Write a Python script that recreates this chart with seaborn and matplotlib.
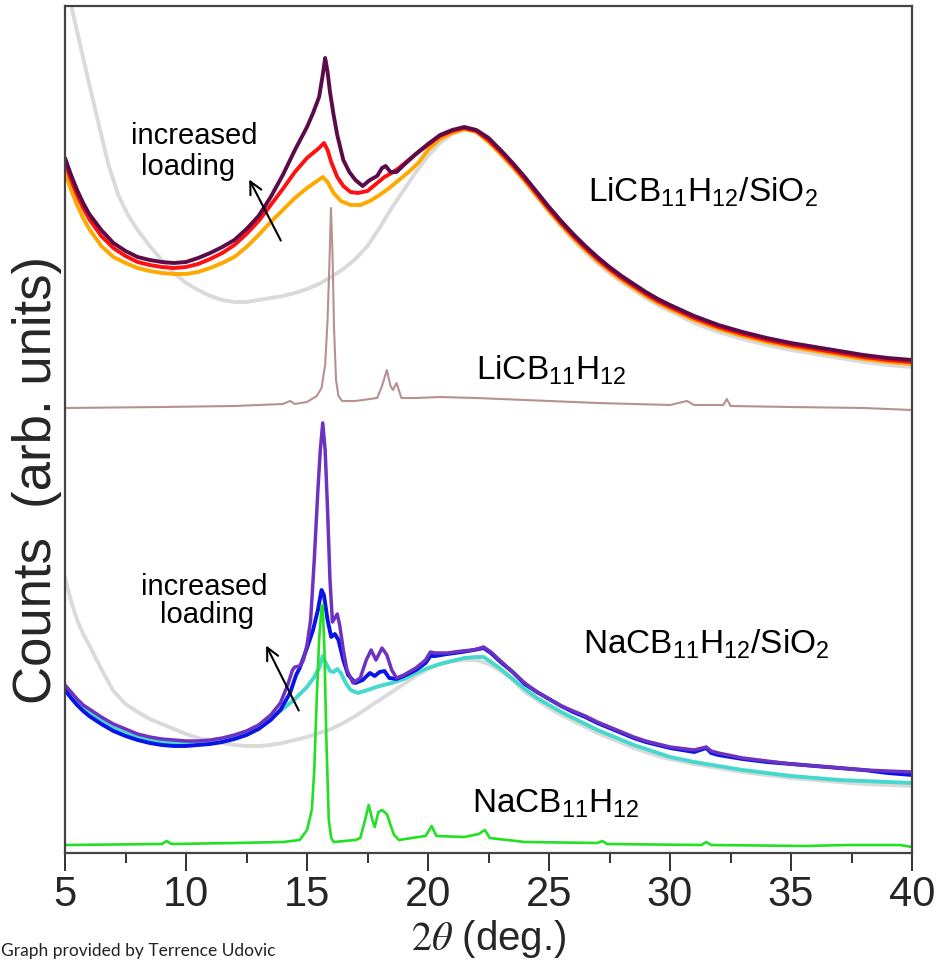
import matplotlib
matplotlib.use("Agg")
import matplotlib.pyplot as plt
import seaborn as sns

# ---------------- data: (2theta [deg], counts [arb. units]) ----------------
li_sio2 = [(5.0, 877), (5.2, 852), (5.6, 810), (6.0, 768), (6.4, 727), (6.8, 687), (7.2, 657),
           (7.6, 637), (8.0, 622), (8.5, 606), (9.0, 592), (9.5, 579), (10.0, 569), (10.5, 562),
           (11.0, 556), (11.5, 552), (12.0, 550), (12.5, 550), (13.0, 552), (13.5, 554),
           (14.0, 556), (14.5, 559), (15.0, 563), (15.5, 568), (16.0, 575), (16.5, 583),
           (17.0, 593), (17.5, 606), (18.0, 624), (18.5, 644), (19.0, 662), (19.5, 680),
           (20.0, 696), (20.5, 709), (21.0, 718), (21.5, 722), (22.0, 721), (22.5, 715),
           (23.0, 697), (23.5, 684), (24.0, 670), (24.5, 655), (25.0, 640), (25.5, 626),
           (26.0, 612), (26.5, 600), (27.0, 589), (27.5, 579), (28.0, 570), (28.5, 562),
           (29.0, 554), (29.5, 547), (30.0, 541), (31.0, 529), (32.0, 520), (33.0, 513),
           (34.0, 507), (35.0, 502), (36.0, 498), (37.0, 494), (38.0, 490), (39.0, 487), (40.0, 485)]

li_high = [(5.0, 694), (5.25, 677), (5.5, 662), (5.75, 649), (6.0, 638), (6.5, 622), (7.0, 609),
           (7.5, 601), (8.0, 595), (8.5, 592), (9.0, 590), (9.5, 589), (10.0, 590), (10.5, 594),
           (11.0, 599), (11.5, 605), (12.0, 612), (12.5, 623), (13.0, 636), (13.5, 655),
           (14.0, 677), (14.5, 702), (15.0, 725), (15.25, 739), (15.5, 755), (15.65, 777),
           (15.75, 794), (15.85, 780), (15.95, 760), (16.1, 737), (16.25, 717), (16.5, 692),
           (16.75, 680), (17.0, 672), (17.3, 666), (17.6, 672), (17.9, 676), (18.1, 684),
           (18.25, 686), (18.45, 680), (18.7, 680), (19.0, 687), (19.5, 698), (20.0, 708),
           (20.5, 717), (21.0, 722), (21.5, 725), (22.0, 722), (22.5, 714), (23.0, 702),
           (23.5, 689), (24.0, 675), (24.5, 660), (25.0, 645), (25.5, 631), (26.0, 618),
           (26.5, 606), (27.0, 595), (27.5, 585), (28.0, 576), (28.5, 568), (29.0, 560),
           (29.5, 553), (30.0, 547), (31.0, 536), (32.0, 527), (33.0, 520), (34.0, 514),
           (35.0, 509), (36.0, 505), (37.0, 501), (38.0, 497), (39.0, 494), (40.0, 492)]

li_mid = [(5.0, 690), (5.25, 672), (5.5, 657), (5.75, 644), (6.0, 633), (6.5, 616), (7.0, 604),
          (7.5, 596), (8.0, 590), (8.5, 587), (9.0, 585), (9.5, 584), (10.0, 585), (10.5, 588),
          (11.0, 593), (11.5, 599), (12.0, 607), (12.5, 618), (13.0, 631), (13.5, 647),
          (14.0, 663), (14.5, 680), (15.0, 694), (15.25, 699), (15.5, 704), (15.7, 709),
          (15.85, 702), (16.0, 690), (16.25, 675), (16.5, 666), (16.8, 660), (17.1, 659),
          (17.5, 661), (17.9, 669), (18.2, 675), (18.5, 679), (18.8, 684), (19.2, 692),
          (19.6, 700), (20.0, 707), (20.5, 716), (21.0, 721), (21.5, 724), (22.0, 721),
          (22.5, 712), (23.0, 700), (23.5, 687), (24.0, 673), (24.5, 658), (25.0, 643),
          (25.5, 629), (26.0, 616), (26.5, 604), (27.0, 593), (27.5, 583), (28.0, 574),
          (28.5, 566), (29.0, 558), (29.5, 551), (30.0, 545), (31.0, 534), (32.0, 525),
          (33.0, 518), (34.0, 512), (35.0, 507), (36.0, 503), (37.0, 499), (38.0, 495),
          (39.0, 492), (40.0, 490)]

li_low = [(5.0, 680), (5.25, 662), (5.5, 647), (5.75, 634), (6.0, 623), (6.5, 606), (7.0, 595),
          (7.5, 589), (8.0, 584), (8.5, 581), (9.0, 579), (9.5, 578), (10.0, 578), (10.5, 580),
          (11.0, 584), (11.5, 589), (12.0, 595), (12.5, 605), (13.0, 617), (13.5, 630),
          (14.0, 642), (14.5, 654), (15.0, 664), (15.3, 669), (15.65, 675), (15.85, 670),
          (16.1, 659), (16.4, 651), (16.8, 647), (17.2, 647), (17.6, 651), (18.0, 657),
          (18.4, 664), (18.8, 672), (19.2, 680), (19.6, 689), (20.0, 702), (20.5, 713),
          (21.0, 719), (21.5, 723), (22.0, 720), (22.5, 710), (23.0, 698), (23.5, 685),
          (24.0, 671), (24.5, 656), (25.0, 641), (25.5, 627), (26.0, 614), (26.5, 602),
          (27.0, 591), (27.5, 581), (28.0, 572), (28.5, 564), (29.0, 556), (29.5, 549),
          (30.0, 543), (31.0, 532), (32.0, 523), (33.0, 516), (34.0, 510), (35.0, 505),
          (36.0, 501), (37.0, 497), (38.0, 493), (39.0, 490), (40.0, 488)]

licb = [(5.0, 444), (9.0, 445), (12.0, 446), (14.0, 448), (14.3, 451), (14.5, 448), (15.0, 450),
        (15.4, 456), (15.6, 464), (15.75, 487), (15.85, 532), (15.93, 592), (15.99, 644),
        (16.05, 602), (16.12, 522), (16.2, 472), (16.3, 456), (16.45, 451), (17.0, 451),
        (17.9, 454), (18.1, 466), (18.3, 482), (18.45, 466), (18.55, 462), (18.7, 469),
        (18.9, 454), (19.5, 454), (20.5, 455), (22.0, 454), (24.0, 452), (27.0, 449),
        (30.0, 447), (30.7, 451), (31.0, 447), (32.2, 447), (32.35, 453), (32.5, 446),
        (35.0, 445), (38.0, 444), (40.0, 442)]

na_sio2 = [(5.0, 274), (5.25, 251), (5.5, 232), (5.75, 218), (6.0, 207), (6.5, 183), (7.0, 161),
           (7.5, 148), (8.0, 140), (8.5, 133), (9.0, 128), (9.5, 123), (10.0, 118), (10.5, 114),
           (11.0, 111), (11.5, 109), (12.0, 107), (12.5, 106), (13.0, 106), (13.5, 107),
           (14.0, 109), (14.5, 112), (15.0, 115), (15.5, 119), (16.0, 123), (16.5, 129),
           (17.0, 136), (17.5, 144), (18.0, 152), (18.5, 160), (19.0, 168), (19.5, 176),
           (20.0, 183), (20.5, 188), (21.0, 191), (21.5, 192), (22.0, 192), (22.5, 188),
           (23.0, 181), (23.5, 172), (24.0, 160), (24.5, 152), (25.0, 144), (25.5, 137),
           (26.0, 131), (26.5, 125), (27.0, 119), (27.5, 114), (28.0, 109), (28.5, 104),
           (29.0, 100), (29.5, 96), (30.0, 93), (31.0, 88), (32.0, 84), (33.0, 80), (34.0, 77),
           (35.0, 74), (36.0, 72), (37.0, 70), (38.0, 68), (39.0, 67), (40.0, 66)]

na_low = [(5.0, 165), (5.25, 157), (5.5, 150), (5.75, 144), (6.0, 139), (6.5, 131), (7.0, 124),
          (7.5, 119), (8.0, 115), (8.5, 112), (9.0, 110), (9.5, 109), (10.0, 109), (10.5, 110),
          (11.0, 111), (11.5, 113), (12.0, 116), (12.5, 120), (13.0, 126), (13.5, 134),
          (14.0, 143), (14.5, 153), (15.0, 165), (15.3, 175), (15.5, 184), (15.65, 196),
          (15.8, 188), (15.95, 181), (16.1, 180), (16.25, 183), (16.4, 179), (16.6, 169),
          (16.8, 162), (17.1, 159), (17.5, 162), (18.0, 166), (18.5, 169), (19.0, 173),
          (19.5, 179), (20.0, 184), (20.5, 188), (21.0, 191), (21.5, 194), (22.0, 195),
          (22.3, 195), (22.6, 190), (23.0, 183), (23.5, 173), (24.0, 163), (24.5, 154),
          (25.0, 147), (25.5, 140), (26.0, 134), (26.5, 128), (27.0, 122), (27.5, 117),
          (28.0, 112), (28.5, 107), (29.0, 103), (29.5, 99), (30.0, 95), (31.0, 90), (32.0, 86),
          (33.0, 82), (34.0, 79), (35.0, 76), (36.0, 74), (37.0, 72), (38.0, 71), (39.0, 70),
          (40.0, 69)]

na_mid = [(5.0, 162), (5.25, 154), (5.5, 147), (5.75, 141), (6.0, 136), (6.5, 128), (7.0, 121),
          (7.5, 116), (8.0, 112), (8.5, 109), (9.0, 107), (9.5, 106), (10.0, 106), (10.5, 107),
          (11.0, 108), (11.5, 110), (12.0, 113), (12.5, 117), (13.0, 123), (13.5, 132),
          (13.9, 142), (14.3, 159), (14.55, 177), (14.7, 184), (15.0, 204), (15.25, 222),
          (15.45, 242), (15.6, 262), (15.7, 257), (15.85, 232), (16.0, 215), (16.15, 218),
          (16.3, 212), (16.5, 192), (16.7, 177), (17.0, 169), (17.3, 172), (17.6, 179),
          (17.8, 176), (18.0, 180), (18.2, 181), (18.4, 174), (18.7, 173), (19.0, 176),
          (19.5, 182), (19.9, 189), (20.1, 196), (20.3, 196), (20.8, 198), (21.4, 200),
          (21.9, 202), (22.3, 204), (22.6, 199), (23.0, 190), (23.5, 180), (24.0, 168),
          (24.5, 160), (25.0, 153), (25.5, 146), (26.0, 140), (26.5, 135), (27.0, 129),
          (27.5, 124), (28.0, 119), (28.5, 114), (29.0, 110), (29.5, 107), (30.0, 104),
          (31.0, 100), (31.5, 104), (31.7, 99), (32.0, 97), (33.0, 93), (34.0, 90), (35.0, 88),
          (36.0, 86), (37.0, 84), (38.0, 82), (39.0, 79), (40.0, 77)]

na_high = [(5.0, 167), (5.25, 160), (5.5, 153), (5.75, 147), (6.0, 143), (6.5, 135), (7.0, 128),
           (7.5, 123), (8.0, 118), (8.5, 115), (9.0, 113), (9.5, 112), (10.0, 111), (10.5, 111),
           (11.0, 112), (11.5, 114), (12.0, 117), (12.5, 121), (13.0, 127), (13.5, 137),
           (13.9, 149), (14.2, 167), (14.4, 182), (14.5, 185), (14.7, 186), (14.85, 192),
           (15.0, 207), (15.15, 232), (15.3, 292), (15.45, 362), (15.55, 402), (15.65, 429),
           (15.75, 402), (15.85, 342), (15.95, 272), (16.05, 230), (16.15, 234), (16.25, 238),
           (16.35, 227), (16.5, 202), (16.65, 182), (16.9, 169), (17.2, 174), (17.45, 192),
           (17.65, 202), (17.85, 192), (18.1, 204), (18.3, 197), (18.5, 182), (18.7, 174),
           (19.0, 177), (19.5, 184), (19.9, 192), (20.1, 200), (20.3, 199), (20.8, 199),
           (21.4, 201), (21.9, 202), (22.3, 205), (22.6, 200), (23.0, 191), (23.5, 180),
           (24.0, 169), (24.5, 160), (25.0, 153), (25.5, 146), (26.0, 141), (26.5, 136),
           (27.0, 130), (27.5, 125), (28.0, 120), (28.5, 115), (29.0, 111), (29.5, 108),
           (30.0, 105), (31.0, 102), (31.5, 105), (31.7, 101), (32.0, 99), (33.0, 94), (34.0, 91),
           (35.0, 88), (36.0, 86), (37.0, 84), (38.0, 82), (39.0, 81), (40.0, 80)]

nacb = [(5.0, 7), (9.0, 8), (9.2, 11), (9.4, 8), (12.0, 9), (14.0, 10), (14.7, 12), (15.0, 22),
        (15.2, 42), (15.3, 82), (15.4, 152), (15.5, 212), (15.6, 245), (15.65, 247), (15.72, 202),
        (15.8, 112), (15.9, 32), (16.0, 14), (16.1, 10), (17.0, 12), (17.2, 14), (17.4, 32),
        (17.55, 47), (17.7, 32), (17.8, 25), (17.95, 40), (18.1, 42), (18.3, 38), (18.45, 27),
        (18.6, 17), (18.8, 12), (19.6, 15), (19.9, 16), (20.15, 26), (20.35, 16), (21.5, 15),
        (22.1, 18), (22.35, 22), (22.55, 14), (24.0, 10), (27.0, 9), (27.2, 11), (27.4, 8),
        (31.3, 7), (31.5, 10), (31.7, 7), (35.6, 6), (37.3, 7), (39.5, 7), (40.0, 5)]

x_ticks = [5, 10, 15, 20, 25, 30, 35, 40]
x_minor_ticks = [7.5, 12.5, 17.5, 22.5, 27.5, 32.5, 37.5]

# ---------------- figure ----------------
sns.set_style("ticks")
plt.rcParams["font.family"] = ["Liberation Sans", "DejaVu Sans"]
plt.rcParams["mathtext.fontset"] = "custom"
plt.rcParams["mathtext.rm"] = "Liberation Sans"
plt.rcParams["mathtext.it"] = "Liberation Sans:italic"
plt.rcParams["mathtext.default"] = "regular"

fig = plt.figure(figsize=(9.42, 9.6), dpi=100)
ax = fig.add_axes([65 / 942, 1 - 853 / 960, (912 - 65) / 942, (853 - 6) / 960])

series = [
    (li_sio2, "#dadada", 2.8),
    (li_low, "#ffa800", 2.8),
    (li_mid, "#ff1010", 2.8),
    (li_high, "#5b0b48", 2.8),
    (licb, "#b89090", 1.5),
    (na_sio2, "#dadada", 2.8),
    (na_low, "#45d8cc", 2.8),
    (na_mid, "#0a14e6", 2.8),
    (na_high, "#6e32c0", 2.5),
    (nacb, "#22e022", 1.9),
]
for pts, col, lw in series:
    xs = [p[0] for p in pts]
    ys = [p[1] for p in pts]
    sns.lineplot(x=xs, y=ys, ax=ax, color=col, linewidth=lw, sort=False, estimator=None)

ax.set_xlim(5, 40)
ax.set_ylim(-1, 846)
ax.set_yticks([])
ax.set_xticks(x_ticks)
ax.set_xticks(x_minor_ticks, minor=True)
ax.tick_params(axis="x", which="major", direction="out", length=13, width=1.4,
               color="#333333", labelsize=30, pad=3)
ax.tick_params(axis="x", which="minor", direction="out", length=7, width=1.4, color="#333333")
for s in ax.spines.values():
    s.set_color("#444444")
    s.set_linewidth(1.6)

ax.set_xlabel(r"$\mathrm{2}\mathit{\theta}$ (deg.)", fontsize=29, labelpad=2,
              math_fontfamily="stix")
ax.set_ylabel("Counts  (arb. units)", fontsize=38)
ax.yaxis.set_label_coords(-0.004, 0.44)

# annotations
txt = dict(color="black", fontsize=21)
ax.text(10.33, 708, "increased", ha="center", va="baseline", **txt)
ax.text(10.1, 677, "loading", ha="center", va="baseline", **txt)
ax.text(10.74, 257, "increased", ha="center", va="baseline", **txt)
ax.text(10.87, 229, "loading", ha="center", va="baseline", **txt)
arrow = dict(arrowstyle="->", color="black", lw=1.5, mutation_scale=22)
ax.annotate("", xy=(12.56, 675), xytext=(13.97, 609), arrowprops=arrow)
ax.annotate("", xy=(13.26, 209), xytext=(14.71, 139), arrowprops=arrow)

lab = dict(color="black", fontsize=24, ha="left", va="baseline")
ax.text(26.6, 650, r"LiCB$_{11}$H$_{12}$/SiO$_2$", **lab)
ax.text(22.0, 472, r"LiCB$_{11}$H$_{12}$", **lab)
ax.text(26.4, 198, r"NaCB$_{11}$H$_{12}$/SiO$_2$", **lab)
ax.text(21.8, 39, r"NaCB$_{11}$H$_{12}$", **lab)

fig.text(0.001, 0.004, "Graph provided by Terrence Udovic", fontsize=12.5,
         family=["Lato", "DejaVu Sans"], ha="left", va="baseline", color="#222222")

fig.savefig("out.png", dpi=100)
